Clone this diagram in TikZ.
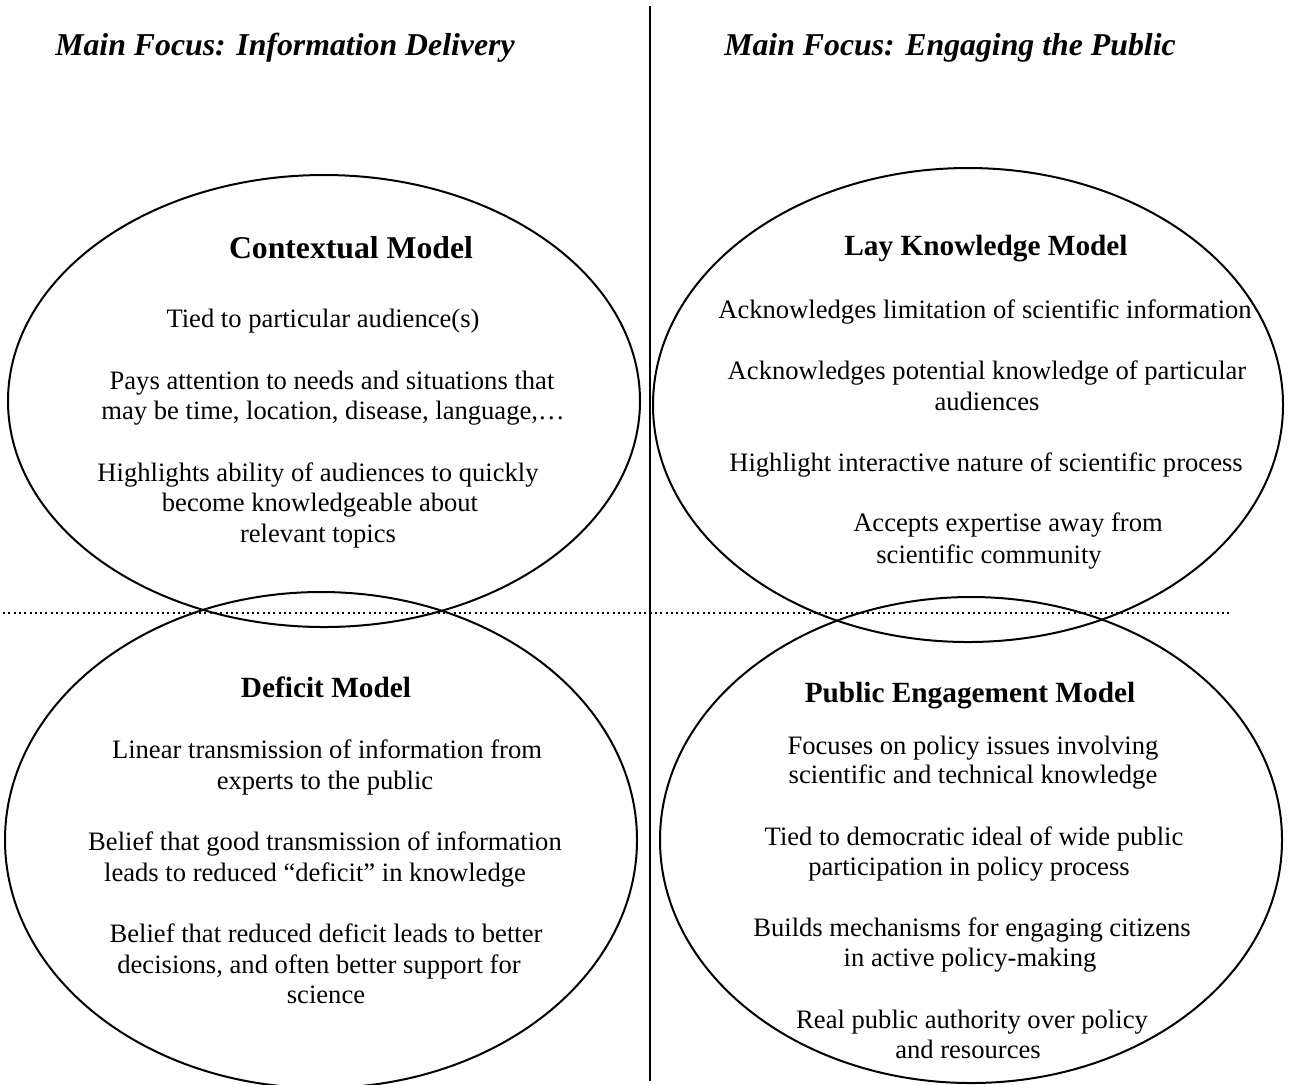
\documentclass[tikz,border=0pt]{standalone}
\usepackage{fontspec}
\setmainfont{Liberation Serif}
\usetikzlibrary{shapes.geometric}
\begin{document}
\begin{tikzpicture}[x=0.5pt,y=-0.5pt,
  oval/.style={ellipse,draw,line width=1pt,inner sep=0pt,outer sep=0pt},
  body/.style={anchor=base,inner sep=0pt,font=\fontsize{13.3}{15.25}\selectfont},
  heading/.style={anchor=base,inner sep=0pt,font=\fontsize{14.65}{17}\selectfont\bfseries},
  bigheading/.style={heading,font=\fontsize{15.85}{18}\selectfont\bfseries},
  focus/.style={anchor=base,inner sep=0pt,font=\fontsize{15.9}{18}\selectfont\bfseries\itshape},
  divider/.style={line width=1pt},
  dotline/.style={line width=1pt,dash pattern=on 1pt off 1.65pt},
]
\useasboundingbox (0,0) rectangle (1289,1084);

% the four model ovals
\node[oval,minimum width=316pt,minimum height=226pt] (ctxOval) at (324,401) {};
\node[oval,minimum width=315pt,minimum height=237pt] (layOval) at (968,405) {};
\node[oval,minimum width=316pt,minimum height=248pt] (defOval) at (321,840) {};
\node[oval,minimum width=311pt,minimum height=243pt] (pubOval) at (971,840) {};

% dividers
\coordinate (vTop) at (650,6);
\coordinate (vBot) at (650,1081);
\draw[divider] (vTop) -- (vBot);
\coordinate (hLeft) at (3,613);
\coordinate (hRight) at (1230,613);
\draw[dotline] (hLeft) -- (hRight);

% column titles
\node[focus] (focusL) at (285,55) {Main Focus: Information Delivery};
\node[focus] (focusR) at (950,55) {Main Focus: Engaging the Public};

% contextual model
\node[bigheading] (ctxHead) at (351,258) {Contextual Model};
\node[body] (c1) at (323,327) {Tied to particular audience(s)};
\node[body] (c2) at (332,389) {Pays attention to needs and situations that};
\node[body] (c3) at (333,419) {may be time, location, disease, language,…};
\node[body] (c4) at (318,481) {Highlights ability of audiences to quickly};
\node[body] (c5) at (320,511) {become knowledgeable about};
\node[body] (c6) at (318,542) {relevant topics};

% lay knowledge model
\node[heading] (layHead) at (986,255) {Lay Knowledge Model};
\node[body] (l1) at (985,318) {Acknowledges limitation of scientific information};
\node[body] (l2) at (987,379) {Acknowledges potential knowledge of particular};
\node[body] (l3) at (987,410) {audiences};
\node[body] (l4) at (986,471) {Highlight interactive nature of scientific process};
\node[body] (l5) at (1008,531) {Accepts expertise away from};
\node[body] (l6) at (989,563) {scientific community};

% deficit model
\node[heading] (defHead) at (326,697) {Deficit Model};
\node[body] (d1) at (327,758) {Linear transmission of information from};
\node[body] (d2) at (325,789) {experts to the public};
\node[body] (d3) at (325,850) {Belief that good transmission of information};
\node[body] (d4) at (315,881) {leads to reduced “deficit” in knowledge};
\node[body] (d5) at (326,942) {Belief that reduced deficit leads to better};
\node[body] (d6) at (319,973) {decisions, and often better support for};
\node[body] (d7) at (326,1003) {science};

% public engagement model
\node[heading] (pubHead) at (970,702) {Public Engagement Model};
\node[body] (p1) at (973,754) {Focuses on policy issues involving};
\node[body] (p2) at (973,783) {scientific and technical knowledge};
\node[body] (p3) at (974,845) {Tied to democratic ideal of wide public};
\node[body] (p4) at (969,875) {participation in policy process};
\node[body] (p5) at (972,936) {Builds mechanisms for engaging citizens};
\node[body] (p6) at (970,966) {in active policy-making};
\node[body] (p7) at (972,1028) {Real public authority over policy};
\node[body] (p8) at (968,1058) {and resources};
\end{tikzpicture}
\end{document}
